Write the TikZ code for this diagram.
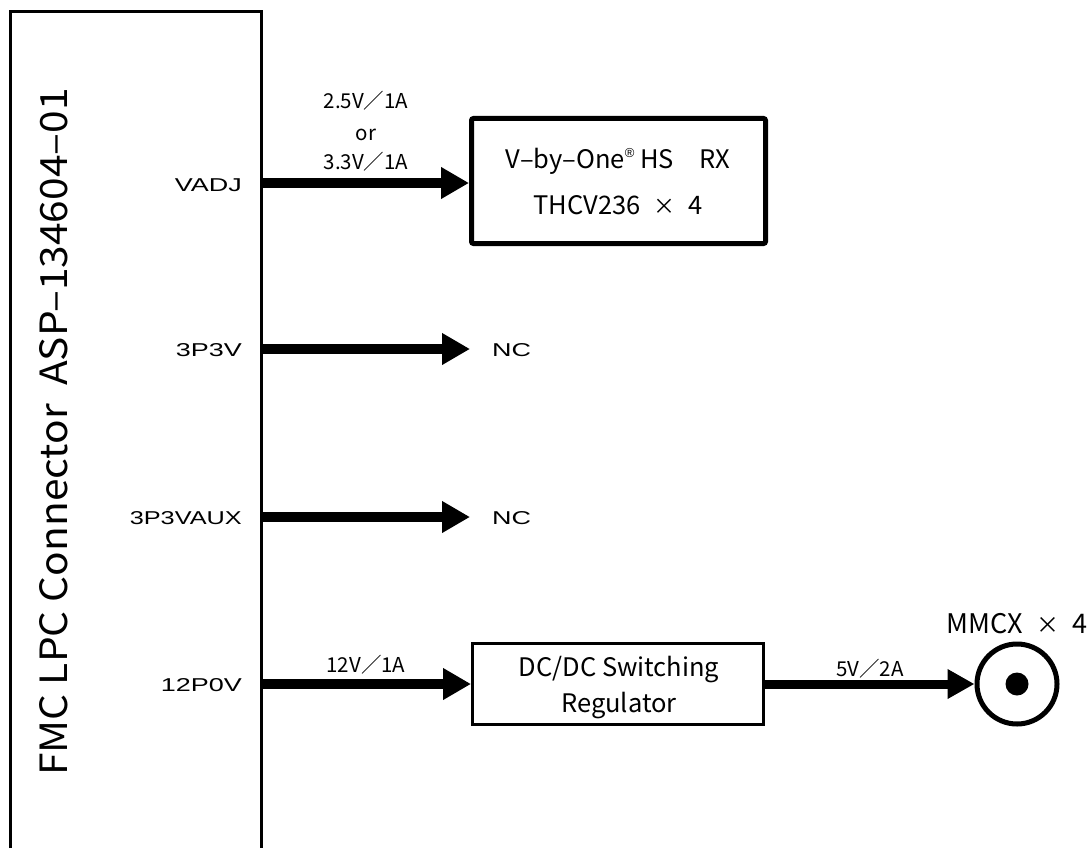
\documentclass[tikz,border=0pt]{standalone}
\usepackage{fontspec}
\newfontfamily\gothic{Noto Sans CJK JP}
\newfontfamily\arialf{Liberation Sans}
\usetikzlibrary{arrows.meta}
\begin{document}
\begin{tikzpicture}[x=1pt,y=-1pt,
  pinlbl/.style={font=\arialf\fontsize{18.6}{18.6}\selectfont, inner sep=0pt},
  pwr/.style={line width=10pt, -{Triangle[length=28pt,width=30pt]}},
  pwrb/.style={line width=9pt, -{Triangle[length=27pt,width=28pt]}},
  lbl/.style={font=\gothic\fontsize{20.5}{20.5}\selectfont, inner sep=0pt, anchor=base},
  boxtxt/.style={font=\gothic\fontsize{25.5}{25}\selectfont, inner sep=0pt, anchor=base},
]
\useasboundingbox (0,0) rectangle (1091,848);
% connector outline (open at the bottom)
\draw[line width=3pt] (10,848) -- (10,12) -- (261,12) -- (261,848);
\node[rotate=90, inner sep=0pt] (title) at (54,432)
  {\resizebox{687pt}{28pt}{\gothic FMC LPC Connector\ \ ASP–134604–01}};
% pin coordinates
\coordinate (pVADJ) at (261,183);
\coordinate (p3P3V) at (261,349);
\coordinate (p3P3VAUX) at (261,517);
\coordinate (p12P0V) at (261,684);
% pin labels
\node[pinlbl, anchor=base east] (lVADJ) at (242,191.5) {\scalebox{1.45}[1]{VADJ}};
\node[pinlbl, anchor=base east] (l3P3V) at (242,356.5) {\scalebox{1.45}[1]{3P3V}};
\node[pinlbl, anchor=base east] (l3P3VAUX) at (242,524.5) {\scalebox{1.36}[1]{3P3VAUX}};
\node[pinlbl, anchor=base east] (l12P0V) at (242,691.5) {\scalebox{1.45}[1]{12P0V}};
% V-by-One receiver box
\node[draw, line width=5pt, rounded corners=2pt, minimum width=294pt, minimum height=125pt,
      inner sep=0pt] (rx) at (618.5,181) {};
\node[boxtxt] (rxt1) at (618,168)
  {V–by–One\raisebox{0.42em}{\arialf\fontsize{13}{13}\selectfont ®}\ HS\quad RX};
\node[boxtxt] (rxt2) at (618,214.5) {THCV236\enspace{\fontsize{22}{22}\selectfont ×}\enspace 4};
\draw[pwr] (pVADJ) -- (pVADJ -| rx.west);
\node[lbl] (v1) at (366,109) {2.5V／1A};
\node[lbl] (v2) at (366,140) {or};
\node[lbl] (v3) at (366,169.5) {3.3V／1A};
% NC pins
\coordinate (nc1) at (470,349);
\coordinate (nc2) at (470,517);
\draw[pwr] (p3P3V) -- (nc1);
\draw[pwr] (p3P3VAUX) -- (nc2);
\node[pinlbl, anchor=base west] (nc1t) at (492,356.5) {\scalebox{1.45}[1]{NC}};
\node[pinlbl, anchor=base west] (nc2t) at (492,524.5) {\scalebox{1.45}[1]{NC}};
% DC/DC regulator
\node[draw, line width=3pt, minimum width=291pt, minimum height=81pt, inner sep=0pt] (dc) at (618,684) {};
\node[boxtxt] (dct1) at (619,676.5) {DC/DC Switching};
\node[boxtxt] (dct2) at (619,712) {Regulator};
\draw[pwr] (p12P0V) -- (dc.west);
\node[lbl] (v4) at (366,672) {12V／1A};
% MMCX
\node[circle, draw, line width=5pt, minimum size=80pt, inner sep=0pt] (mmcx) at (1017,684) {};
\node[circle, fill, minimum size=23pt, inner sep=0pt] (dot) at (mmcx.center) {};
\draw[pwrb] (dc.east) -- (mmcx.west);
\node[lbl] (v5) at (870,676) {5V／2A};
\node[font=\gothic\fontsize{27}{27}\selectfont, inner sep=0pt, anchor=base] (mmcxl) at (1017,633)
  {MMCX\enspace{\fontsize{23}{23}\selectfont ×}\enspace 4};
\end{tikzpicture}
\end{document}
